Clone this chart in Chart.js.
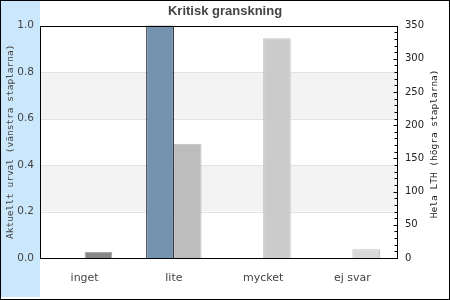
<!DOCTYPE html>
<html>
<head>
<meta charset="utf-8">
<script src="https://cdn.jsdelivr.net/npm/chart.js@4"></script>
<style>
  html, body { margin: 0; padding: 0; background: #fff; }
  #wrap { width: 450px; height: 300px; }
</style>
</head>
<body>
<div id="wrap"><canvas id="granskning" width="450" height="300"></canvas></div>
<script>
// kategorier och värden
var categories = ["inget", "lite", "mycket", "ej svar"];
var aktuelltUrval = [null, 1.0, null, null];   // vänstra staplarna (andel)
var helaLTH = [9, 172, 331, 13];               // högra staplarna (antal)
var leftMax = 1.0, leftStep = 0.2;
var rightMax = 350, rightStep = 50, rightMinor = 10;
var rightTitle = "Hela LTH (högra staplarna)";

var helaColors = ["#888888", "#bdbdbd", "#cbcbcb", "#d9d9d9"];
var helaBorders = ["#a8a8a8", "#bdbdbd", "#c4c4c4", "#c2c2c2"];

var ink = "#444444";

// ram, bakgrund, band och ticks
var framePlugin = {
    id: "frame",
    beforeDraw: function (chart) {
        var c = chart.ctx, a = chart.chartArea, y = chart.scales.y;
        c.save();
        c.fillStyle = "#ffffff";
        c.fillRect(0, 0, chart.width, chart.height);
        c.fillStyle = "#cbe7fb";
        c.fillRect(1, 1, a.left - 1, chart.height - 4);
        // alternerande band
        for (var v = 0, i = 0; v < leftMax - 1e-9; v += leftStep, i++) {
            if (i % 2 === 1) {
                var top = y.getPixelForValue(v + leftStep), bot = y.getPixelForValue(v);
                c.fillStyle = "#f3f3f3";
                c.fillRect(a.left, top, a.right - a.left, bot - top);
            }
        }
        // stödlinjer
        c.strokeStyle = "#e2e2e2";
        c.lineWidth = 1;
        for (var g = leftStep; g < leftMax - 1e-9; g += leftStep) {
            var py = Math.round(y.getPixelForValue(g)) + 0.5;
            c.beginPath();
            c.moveTo(a.left, py);
            c.lineTo(a.right, py);
            c.stroke();
        }
        c.restore();
    },
    afterDatasetsDraw: function (chart) {
        var c = chart.ctx, a = chart.chartArea, y1 = chart.scales.y1;
        c.save();
        c.strokeStyle = "#000";
        c.lineWidth = 1;
        c.strokeRect(Math.round(a.left) + 0.5, Math.round(a.top) + 0.5,
            Math.round(a.right - a.left), Math.round(a.bottom - a.top));
        // ticks på högra axeln, inåt
        var rx = Math.round(a.right) + 0.5;
        for (var t = 0; t <= rightMax; t += rightMinor) {
            var py = Math.round(y1.getPixelForValue(t)) + 0.5;
            var len = (t % rightStep === 0) ? 4 : 3;
            c.beginPath();
            c.moveTo(rx - len, py);
            c.lineTo(rx, py);
            c.stroke();
        }
        c.strokeRect(0.5, 0.5, chart.width - 1, chart.height - 1);
        // högra axelns titel, läses nerifrån och upp
        c.translate(chart.width - 15, (a.top + a.bottom) / 2 + 2);
        c.rotate(-Math.PI / 2);
        c.fillStyle = "#222";
        c.font = "9.5px 'DejaVu Sans Mono'";
        c.textAlign = "center";
        c.textBaseline = "middle";
        c.fillText(rightTitle, 0, 0);
        c.restore();
    }
};

var ctx = document.getElementById("granskning").getContext("2d");
var chart = new Chart(ctx, {
    type: "bar",
    data: {
        labels: categories,
        datasets: [
            {
                label: "Aktuellt urval",
                data: aktuelltUrval,
                yAxisID: "y",
                backgroundColor: "#7393ae",
                borderColor: "#000000",
                borderWidth: 1
            },
            {
                label: "Hela LTH",
                data: helaLTH,
                yAxisID: "y1",
                backgroundColor: helaColors,
                borderColor: helaBorders,
                borderWidth: 1
            }
        ]
    },
    options: {
        responsive: false,
        animation: false,
        layout: { padding: 0 },
        datasets: {
            bar: { categoryPercentage: 0.62, barPercentage: 1.0, grouped: true }
        },
        plugins: {
            legend: { display: false },
            tooltip: { enabled: false },
            title: {
                display: true,
                text: "Kritisk granskning",
                color: ink,
                font: { family: "Liberation Sans", size: 13, weight: "bold" },
                padding: { top: 4, bottom: 6 }
            }
        },
        scales: {
            x: {
                grid: { display: false },
                border: { display: false },
                ticks: {
                    color: ink,
                    padding: 6,
                    font: { family: "DejaVu Sans", size: 11 }
                },
                afterFit: function (s) { s.height = 42; }
            },
            y: {
                position: "left",
                min: 0,
                max: leftMax,
                grid: { display: false, drawTicks: false },
                border: { display: false },
                ticks: {
                    stepSize: leftStep,
                    color: ink,
                    padding: 6,
                    font: { family: "DejaVu Sans", size: 10.5 },
                    callback: function (v) { return v.toFixed(1); }
                },
                title: {
                    display: true,
                    text: "Aktuellt urval (vänstra staplarna)",
                    color: ink,
                    font: { family: "DejaVu Sans Mono", size: 9.5 },
                    padding: { top: 5, bottom: 0 }
                },
                afterFit: function (s) { s.width = 40; }
            },
            y1: {
                position: "right",
                min: 0,
                max: rightMax,
                grid: { display: false, drawTicks: false },
                border: { display: false },
                ticks: {
                    stepSize: rightStep,
                    color: "#222",
                    padding: 8,
                    font: { family: "DejaVu Sans", size: 10 }
                },
                afterFit: function (s) { s.width = 53; }
            }
        }
    },
    plugins: [framePlugin]
});
</script>
</body>
</html>
